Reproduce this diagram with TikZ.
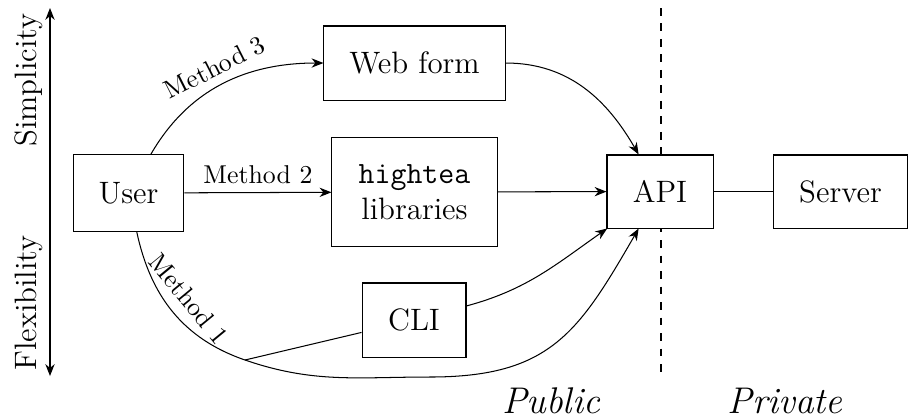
\documentclass[tikz,border=0pt]{standalone}
\usetikzlibrary{arrows.meta}
\begin{document}
\begin{tikzpicture}[x=0.3876pt, y=-0.3876pt,
  box/.style={draw, inner sep=0pt, font=\large, fill=white, align=center},
  arr/.style={-{Stealth[length=4.6pt,width=3.6pt]}},
  lbl/.style={font=\normalsize},
  side/.style={font=\Large\itshape, anchor=base, inner sep=0pt}]
\useasboundingbox (0,0) rectangle (915,417);
% divider
\coordinate (divtop) at (661,8);
\coordinate (divbot) at (661,377);
\draw[dashed] (divtop) -- (divbot);
% nodes
\node[box, minimum width=43pt, minimum height=29.5pt] (user) at (128.5,193) {User};
\node[box, minimum width=70.2pt, minimum height=28.7pt] (web) at (414.5,63) {Web form};
\node[box, minimum width=64pt, minimum height=41.9pt] (hightea) at (414.5,192) {\texttt{hightea}\\libraries};
\node[box, minimum width=41.1pt, minimum height=28.3pt] (api) at (660,191.5) {API};
\node[box, minimum width=52.3pt, minimum height=28.3pt] (server) at (840.5,191.5) {Server};
\node[box, minimum width=40.3pt, minimum height=28.7pt] (cli) at (414,320) {CLI};
\coordinate (m1) at (245,360);
\coordinate (bot) at (430,377);
% axis
\coordinate (axtop) at (50,8);
\coordinate (axbot) at (50,376);
\draw[{Stealth[length=4.6pt,width=3.6pt]}-{Stealth[length=4.6pt,width=3.6pt]}] (axtop) -- (axbot);
\node[rotate=90, font=\large] (simp) at (29,80) {Simplicity};
\node[rotate=90, font=\large] (flex) at (29,303) {Flexibility};
% connectors
\draw[arr] (user) to[out=60,in=180] node[above,sloped,lbl]{Method 3} (web);
\draw[arr] (user) -- node[above,lbl]{Method 2} (hightea);
\draw[arr] (user) to[out=-78,in=161] node[above=1pt,sloped,lbl,pos=0.5]{Method 1} (m1)
  to[out=-19,in=180] (bot) to[out=0,in=240,looseness=1.2] (api);
\draw (m1) -- (cli);
\draw[arr] (cli) to[out=15,in=215] (api);
\draw[arr] (web) to[out=0,in=120] (api);
\draw[arr] (hightea) -- (api);
\draw (api) -- (server);
% labels
\node[side] (pub) at (551,413) {Public};
\node[side] (priv) at (785,413) {Private};
\end{tikzpicture}
\end{document}
